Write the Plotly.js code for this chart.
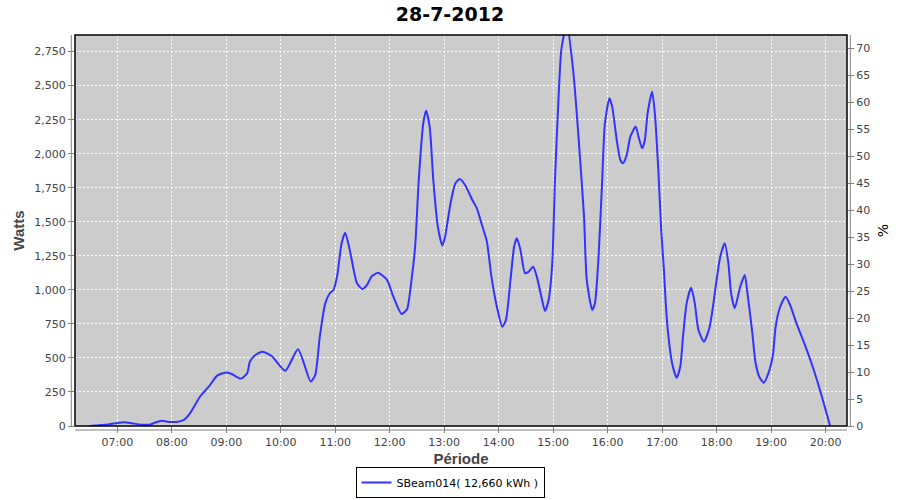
<!DOCTYPE html>
<html>
<head>
<meta charset="utf-8">
<script src="https://cdn.plot.ly/plotly-3.0.1.min.js"></script>
<style>html,body{margin:0;padding:0;background:#fff;}#chart{width:900px;height:500px;}</style>
</head>
<body>
<div id="chart"></div>
<script>
const day = '2012-07-28';
const times = ['06:29','06:50','07:08','07:16','07:27','07:36','07:41','07:49','07:55','08:07','08:13','08:20','08:31','08:42','08:50','08:59','09:06','09:16','09:23','09:26','09:32','09:40','09:50','10:05','10:19','10:33','10:38','10:43','10:49','10:54','10:58','11:02','11:07','11:11','11:16','11:24','11:30','11:35','11:40','11:47','11:57','12:04','12:13','12:19','12:24','12:28','12:32','12:37','12:40','12:44','12:48','12:53','12:58','13:01','13:07','13:12','13:17','13:23','13:31','13:36','13:41','13:47','13:52','13:58','14:04','14:08','14:13','14:17','14:20','14:24','14:29','14:33','14:38','14:42','14:47','14:51','14:55','14:59','15:02','15:06','15:09','15:15','15:22','15:26','15:30','15:34','15:37','15:43','15:46','15:50','15:54','15:57','16:02','16:05','16:10','16:14','16:17','16:21','16:25','16:31','16:34','16:38','16:41','16:44','16:49','16:52','16:56','16:59','17:02','17:04','17:07','17:11','17:16','17:20','17:23','17:27','17:32','17:36','17:40','17:46','17:52','17:56','18:00','18:04','18:09','18:13','18:16','18:20','18:26','18:31','18:34','18:39','18:43','18:47','18:52','18:57','19:02','19:05','19:10','19:16','19:21','19:28','19:38','19:47','19:56','20:05'];
const watts = [0,12,27,20,10,10,24,39,32,32,44,93,215,301,370,392,382,348,387,472,521,546,514,406,563,326,375,656,901,975,999,1097,1342,1420,1293,1048,1006,1036,1097,1126,1073,950,823,857,1073,1317,1807,2224,2316,2199,1807,1464,1325,1391,1636,1778,1814,1770,1660,1599,1489,1354,1097,876,729,779,1073,1317,1379,1293,1122,1134,1170,1097,950,845,926,1195,1807,2419,2762,2960,2615,2297,1930,1538,1073,852,901,1244,1807,2224,2407,2346,2101,1954,1930,1991,2125,2199,2125,2040,2101,2297,2456,2297,1856,1440,1146,901,656,461,355,436,656,901,1016,901,705,619,718,876,1073,1244,1342,1195,975,865,1023,1109,975,705,461,362,318,387,521,729,876,950,889,754,583,411,215,0];
const seriesName = 'SBeam014( 12,660 kWh )';
const titleText = '28-7-2012';
const xTitle = 'Période';
const yTitle = 'Watts';
const y2Title = '%';
const wattTicks = [0,250,500,750,1000,1250,1500,1750,2000,2250,2500,2750];
const pctTicks = [0,5,10,15,20,25,30,35,40,45,50,55,60,65,70];

const xs = times.map(t => day + ' ' + t);
const tickFont = {family: 'DejaVu Sans, sans-serif', size: 11, color: '#444'};
const labelFont = {family: 'Liberation Sans, sans-serif', size: 15, color: '#444', weight: 'bold'};

const traces = [
  {x: xs, y: watts, type: 'scatter', mode: 'lines', name: seriesName,
   line: {color: '#3333ff', width: 2, shape: 'spline', smoothing: 0.6}, hoverinfo: 'x+y'},
  {x: [xs[0]], y: [0], yaxis: 'y2', type: 'scatter', mode: 'lines', showlegend: false,
   hoverinfo: 'skip', line: {width: 0}, opacity: 0}
];

const layout = {
  width: 900, height: 500,
  margin: {l: 75, r: 53, t: 35, b: 74},
  paper_bgcolor: '#ffffff', plot_bgcolor: '#cccccc',
  title: {text: titleText, x: 0.5, xanchor: 'center', y: 0.972, yanchor: 'middle',
          font: {family: 'DejaVu Sans, sans-serif', size: 19, color: '#000', weight: 'bold'}},
  showlegend: true,
  legend: {orientation: 'h', x: 0.5, xanchor: 'center', xref: 'container',
           y: 0.004, yanchor: 'bottom', yref: 'container',
           bordercolor: '#000', borderwidth: 1, bgcolor: '#fff',
           font: {family: 'DejaVu Sans, sans-serif', size: 11, color: '#000'}, itemwidth: 30,
           tracegroupgap: 0},
  xaxis: {type: 'date', range: [day + ' 06:13:24', day + ' 20:23:37'],
          tick0: day + ' 00:00', dtick: 3600000, tickformat: '%H:%M',
          showgrid: true, gridcolor: '#ffffff', gridwidth: 1, griddash: '2px,2px',
          zeroline: false, showline: false, automargin: false,
          ticks: 'outside', ticklen: 6, tickcolor: '#808080', tickfont: tickFont,
          title: {text: xTitle, font: labelFont, standoff: 6}},
  yaxis: {range: [0, 2872], tickvals: wattTicks, tickformat: ',d',
          showgrid: true, gridcolor: '#ffffff', gridwidth: 1, griddash: '2px,2px',
          zeroline: false, showline: false, automargin: false,
          ticks: 'outside', ticklen: 6, tickcolor: '#808080', tickfont: tickFont,
          title: {text: yTitle, font: labelFont, standoff: 6}},
  yaxis2: {overlaying: 'y', side: 'right', range: [0, 72.46], tickvals: pctTicks,
           showgrid: false, zeroline: false, showline: false, automargin: false,
           ticks: 'outside', ticklen: 6, tickcolor: '#808080', tickfont: tickFont,
           title: {text: y2Title, font: {family: 'DejaVu Sans, sans-serif', size: 14, color: '#000'}, standoff: 8}},
  shapes: [
    {type: 'rect', xref: 'paper', yref: 'paper', x0: 0, x1: 1, y0: 0, y1: 1,
     line: {color: '#000', width: 1.5}, layer: 'above'},
    {type: 'line', xref: 'paper', yref: 'paper', x0: -0.0048, x1: -0.0048, y0: 0, y1: 1,
     line: {color: '#808080', width: 1}},
    {type: 'line', xref: 'paper', yref: 'paper', x0: 1.0043, x1: 1.0043, y0: 0, y1: 1,
     line: {color: '#808080', width: 1}},
    {type: 'line', xref: 'paper', yref: 'paper', x0: 0, x1: 1, y0: -0.0102, y1: -0.0102,
     line: {color: '#808080', width: 1}}
  ]
};

Plotly.newPlot('chart', traces, layout, {displayModeBar: false, staticPlot: true});
</script>
</body>
</html>
